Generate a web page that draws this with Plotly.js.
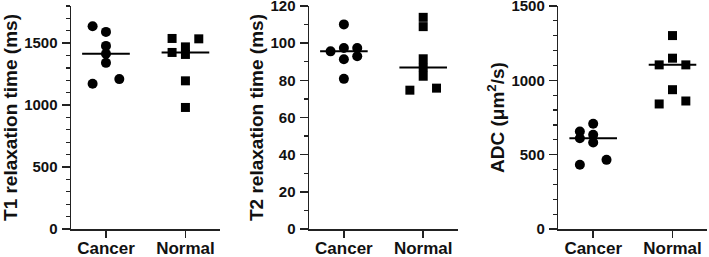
<!DOCTYPE html>
<html>
<head>
<meta charset="utf-8">
<script src="https://cdn.plot.ly/plotly-3.0.1.min.js"></script>
<style>html,body{margin:0;padding:0;background:#fff;}#chart{width:709px;height:257px;}</style>
</head>
<body>
<div id="chart"></div>
<script>
// Categories
const categories = ["Cancer", "Normal"];

// T1 relaxation time (ms)
const t1Cancer = [1637, 1591, 1478, 1414, 1341, 1172, 1210];
const t1CancerSide = [-1, 0, 0, 0, 0, -1, 1];
const t1Normal = [1538, 1535, 1425, 1470, 1409, 1196, 981];
const t1NormalSide = [-1, 1, -1, 0, 0, 0, 0];

// T2 relaxation time (ms)
const t2Cancer = [110.1, 95.6, 97.4, 97.4, 91.3, 93.0, 80.8];
const t2CancerSide = [0, -1, 0, 1, 0, 1, 0];
const t2Normal = [113.9, 108.9, 91.6, 86.9, 82.2, 74.7, 75.8];
const t2NormalSide = [0, 0, 0, 0, 0, -1, 1];

// ADC (um^2/s)
const adcCancer = [656, 708, 610, 634, 582, 432, 465];
const adcCancerSide = [-1, 0, -1, 0, 0, -1, 1];
const adcNormal = [1301, 1149, 1104, 1104, 937, 841, 861];
const adcNormalSide = [0, 0, -1, 1, 0, -1, 1];

// Axis settings
const yTitles = ["T1 relaxation time (ms)", "T2 relaxation time (ms)", "ADC (\u03bcm<sup>2</sup>/s)"];
const yRanges = [[0, 1800], [0, 120], [0, 1500]];
const yTickVals = [[0, 500, 1000, 1500], [0, 20, 40, 60, 80, 100, 120], [0, 500, 1000, 1500]];
const yMinor = [100, 10, 100];

const panels = [
  [[t1Cancer, t1CancerSide], [t1Normal, t1NormalSide]],
  [[t2Cancer, t2CancerSide], [t2Normal, t2NormalSide]],
  [[adcCancer, adcCancerSide], [adcNormal, adcNormalSide]]
];

const JIT = 0.168, HALF = 0.3;
const symbols = ["circle", "square"];
const sizes = [10, 9];
function median(a){const s=[...a].sort((p,q)=>p-q);const n=s.length;return n%2?s[(n-1)/2]:(s[n/2-1]+s[n/2])/2;}

const traces = [];
panels.forEach((groups, p) => {
  const xa = p === 0 ? "x" : "x" + (p + 1);
  const ya = p === 0 ? "y" : "y" + (p + 1);
  groups.forEach(([vals, side], g) => {
    const c = g + 1;
    traces.push({
      type: "scatter", mode: "markers", xaxis: xa, yaxis: ya,
      x: side.map(s => c + s * JIT), y: vals,
      marker: {symbol: symbols[g], size: sizes[g], color: "#000"},
      showlegend: false, hoverinfo: "y", cliponaxis: false
    });
    const m = median(vals);
    traces.push({
      type: "scatter", mode: "lines", xaxis: xa, yaxis: ya,
      x: [c - HALF, c + HALF], y: [m, m],
      line: {color: "#000", width: 2},
      showlegend: false, hoverinfo: "skip"
    });
  });
});

const W = 709;
const xDomains = [[71 / W, 220 / W], [309 / W, 457.7 / W], [558.3 / W, 707 / W]];
const font = {family: "Liberation Sans, Arial, sans-serif", color: "#111"};

const layout = {
  width: 709, height: 257,
  margin: {l: 0, r: 0, t: 6, b: 28},
  paper_bgcolor: "#fff", plot_bgcolor: "#fff",
  font: font,
  showlegend: false
};

for (let p = 0; p < 3; p++) {
  const sfx = p === 0 ? "" : String(p + 1);
  layout["xaxis" + sfx] = {
    domain: xDomains[p], anchor: "y" + sfx, range: [0.56, 2.435],
    tickvals: [1, 2], ticktext: categories,
    ticks: "outside", ticklen: 7, tickwidth: 1.5, tickcolor: "#222",
    ticklabelstandoff: -4, ticklabeloverflow: "allow",
    showline: true, linecolor: "#222", linewidth: 1.5,
    showgrid: false, zeroline: false, fixedrange: true,
    tickfont: {family: font.family, size: 17, color: "#111", weight: "bold"}
  };
  layout["yaxis" + sfx] = {
    domain: [0, 1], anchor: "x" + sfx, range: yRanges[p],
    tickvals: yTickVals[p], ticklabeloverflow: "allow",
    ticks: "outside", ticklen: 8, tickwidth: 1.5, tickcolor: "#222",
    ticklabelstandoff: 1,
    minor: {dtick: yMinor[p], ticks: "outside", ticklen: 4, tickwidth: 1.2, tickcolor: "#222", showgrid: false},
    showline: true, linecolor: "#222", linewidth: 1.5,
    showgrid: false, zeroline: false, fixedrange: true,
    tickfont: {family: font.family, size: 15, color: "#111", weight: "bold"},
    title: {text: yTitles[p], font: {family: font.family, size: 19, color: "#111", weight: "bold"}, standoff: 2}
  };
}

Plotly.newPlot("chart", traces, layout, {displayModeBar: false, staticPlot: true});
</script>
</body>
</html>
